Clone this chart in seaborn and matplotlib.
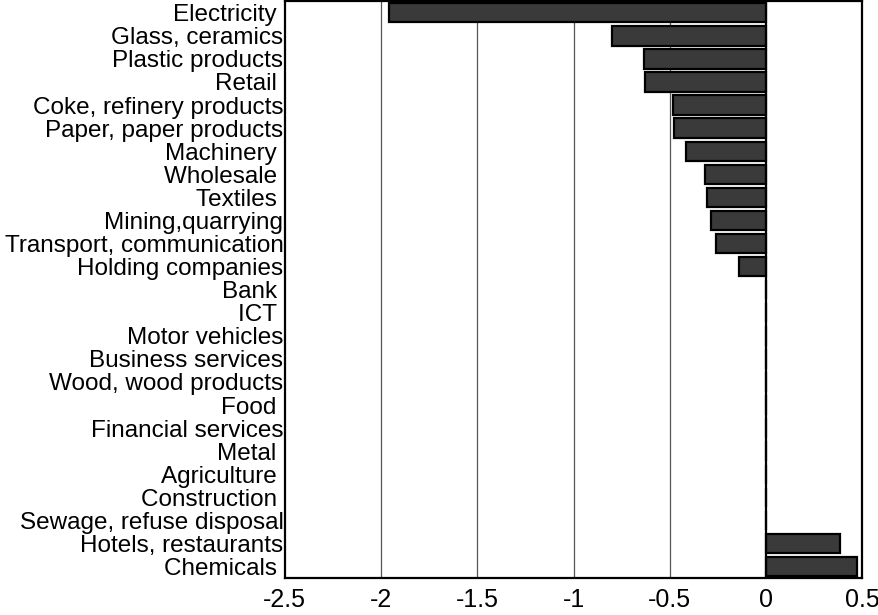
import matplotlib
matplotlib.use("Agg")
import matplotlib.pyplot as plt
import pandas as pd
import seaborn as sns

sectors = [
    "Electricity ", "Glass, ceramics", "Plastic products", "Retail ",
    "Coke, refinery products", "Paper, paper products", "Machinery ",
    "Wholesale ", "Textiles ", "Mining,quarrying", "Transport, communication",
    "Holding companies", "Bank ", "ICT ", "Motor vehicles", "Business services",
    "Wood, wood products", "Food ", "Financial services", "Metal ",
    "Agriculture ", "Construction ", "Sewage, refuse disposal",
    "Hotels, restaurants", "Chemicals ",
]
values = [
    -1.96, -0.80, -0.635, -0.628, -0.484, -0.478, -0.414, -0.317, -0.305,
    -0.285, -0.259, -0.139, 0, 0, 0, 0, 0, 0, 0, 0, 0, 0, 0, 0.382, 0.472,
]

df = pd.DataFrame({"sector": sectors, "value": values})

sns.set_style("white")
plt.rcParams["font.family"] = ["Liberation Sans", "DejaVu Sans"]

fig = plt.figure(figsize=(8.79, 6.15), dpi=100)
ax = fig.add_axes([0.324, 0.06, 0.657, 0.938])

sns.barplot(data=df, x="value", y="sector", orient="h", color="#3a3a3a",
            saturation=1, width=0.84, edgecolor="black", linewidth=1.6, ax=ax)

ax.set_xlim(-2.5, 0.5)
ax.set_ylim(24.5, -0.5)
ax.set_xticks([-2.5, -2, -1.5, -1, -0.5, 0, 0.5])
ax.set_xticklabels(["-2.5", "-2", "-1.5", "-1", "-0.5", "0", "0.5"])
for g in [-2, -1.5, -1, -0.5]:
    ax.axvline(g, color="#555555", lw=0.9, zorder=0)
ax.axvline(0, color="black", lw=1.6, zorder=3)

ax.set_xlabel("")
ax.set_ylabel("")
ax.tick_params(axis="both", length=0, labelcolor="black")
ax.tick_params(axis="y", pad=1, labelsize=17.5)
ax.tick_params(axis="x", pad=7, labelsize=18)
for s in ax.spines.values():
    s.set_color("black")
    s.set_linewidth(1.6)

fig.savefig("out.png", dpi=100)
